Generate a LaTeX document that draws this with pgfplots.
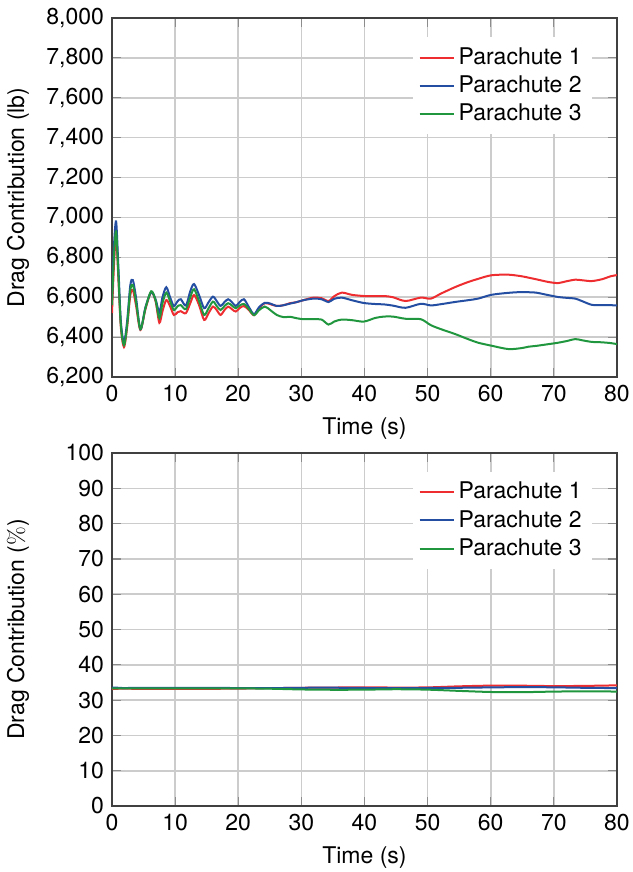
\documentclass[border=0pt]{standalone}
\usepackage{fontspec}
\setmainfont{TeX Gyre Heros}
\usepackage{pgfplots}
\usepackage{pgfplotstable}
\pgfplotsset{compat=1.18}
\definecolor{pred}{RGB}{237,45,48}
\definecolor{pblue}{RGB}{35,78,162}
\definecolor{pgreen}{RGB}{32,150,62}

\pgfplotstableread{
t r b g
0.0 6520 6600 6560
0.3 6750 6850 6800
0.65 6910 6980 6930
1.0 6700 6760 6720
1.4 6450 6480 6460
1.9 6350 6375 6360
2.4 6450 6480 6460
2.9 6610 6660 6635
3.3 6636 6686 6661
3.8 6560 6600 6580
4.5 6436 6440 6440
5.3 6540 6550 6545
6.2 6625 6625 6630
6.9 6580 6590 6585
7.5 6472 6525 6495
8.0 6530 6600 6570
8.6 6586 6650 6623
9.2 6555 6600 6580
9.8 6511 6556 6536
10.4 6525 6580 6555
10.9 6530 6590 6560
11.7 6520 6558 6540
12.4 6570 6630 6600
13.0 6611 6666 6640
13.8 6560 6610 6580
14.6 6486 6545 6511
15.3 6520 6575 6545
16.0 6553 6603 6578
16.6 6535 6580 6555
17.2 6511 6556 6536
17.8 6535 6575 6555
18.4 6553 6590 6570
19.0 6540 6575 6558
19.6 6528 6556 6545
20.2 6545 6575 6558
20.9 6556 6590 6566
21.7 6535 6550 6540
22.5 6510 6515 6510
23.3 6545 6550 6535
24.2 6570 6572 6553
25.1 6565 6568 6535
26.1 6556 6556 6511
27.2 6560 6560 6500
28.2 6570 6568 6502
29.2 6575 6575 6495
30.3 6585 6585 6490
31.9 6598 6593 6490
33.2 6595 6590 6488
34.3 6581 6576 6463
35.2 6605 6592 6478
36.4 6623 6598 6488
38.0 6612 6585 6485
39.9 6606 6571 6478
41.7 6605 6566 6496
43.1 6606 6564 6503
44.5 6600 6558 6503
46.5 6581 6547 6492
48.9 6598 6567 6490
50.5 6593 6559 6460
52.1 6618 6565 6440
54.3 6650 6576 6416
56.4 6676 6585 6390
58.0 6692 6593 6372
60.1 6710 6612 6357
62.8 6713 6622 6340
64.9 6705 6626 6345
66.0 6698 6625 6352
67.2 6690 6623 6356
69.2 6676 6610 6365
70.7 6671 6601 6372
72.0 6680 6597 6380
73.4 6688 6593 6390
74.5 6685 6580 6384
76.0 6681 6562 6376
77.6 6690 6560 6374
79.0 6705 6560 6370
80.0 6711 6559 6365
}\forcetable

\pgfplotstableread{
t r b g
0 33.13 33.54 33.33
0.65 33.19 33.53 33.29
1.9 33.27 33.40 33.32
3.3 33.21 33.46 33.33
7.5 33.20 33.48 33.32
10 33.21 33.44 33.34
14.6 33.19 33.49 33.32
20 33.26 33.41 33.33
25 33.38 33.39 33.23
30 33.49 33.49 33.02
35 33.56 33.51 32.93
40 33.61 33.43 32.96
45 33.56 33.36 33.08
50 33.60 33.43 32.96
55 33.90 33.49 32.61
60 34.10 33.60 32.30
65 34.08 33.68 32.25
70 33.97 33.62 32.41
75 34.03 33.48 32.49
80 34.18 33.40 32.42
}\pcttable

\pgfplotsset{
  common/.style={
    scale only axis,
    width=252.5pt,
    xmin=0, xmax=80,
    xtick={0,10,...,80},
    grid=major,
    grid style={draw=black!20, line width=0.8pt},
    axis line style={draw=black!75, line width=0.8pt},
    major tick style={draw=black!45, line width=0.6pt},
    major tick length=4.5pt,
    /pgf/number format/assume math mode=true,
    tick label style={font=\fontsize{11.5}{14}\selectfont},
    label style={font=\fontsize{11.5}{14}\selectfont},
    xlabel={Time (s)},
    every axis y label/.style={at={(axis description cs:-0.186,0.5)}, rotate=90, anchor=center},
    legend style={draw=none, fill=white, at={(0.9505,0.947)}, anchor=north east,
      font=\fontsize{11.5}{14}\selectfont, inner sep=3pt, row sep=0pt},
    legend cell align=left,
    every axis plot/.append style={line width=1pt, smooth, tension=0.5},
  }
}

\begin{document}
\fontsize{11.5}{14}\selectfont
\begin{tikzpicture}
\path[use as bounding box] (-56pt,188.5pt) rectangle (260pt,-247.5pt);
\begin{axis}[common,
  at={(0pt,0pt)}, anchor=south west,
  height=179.5pt,
  ymin=6200, ymax=8000,
  ytick={6200,6400,...,8000},
  scaled y ticks=false,
  ylabel={Drag Contribution (lb)},
]
\addplot[pred] table[x=t,y=r] {\forcetable};
\addplot[pblue] table[x=t,y=b] {\forcetable};
\addplot[pgreen] table[x=t,y=g] {\forcetable};
\legend{Parachute 1, Parachute 2, Parachute 3}
\end{axis}

\begin{axis}[common,
  at={(0pt,-38pt)}, anchor=north west,
  height=176.5pt,
  ymin=0, ymax=100,
  ytick={0,10,...,100},
  ylabel={Drag Contribution ({\fontfamily{lmr}\selectfont\%})},
]
\addplot[pred] table[x=t,y=r] {\pcttable};
\addplot[pblue] table[x=t,y=b] {\pcttable};
\addplot[pgreen] table[x=t,y=g] {\pcttable};
\legend{Parachute 1, Parachute 2, Parachute 3}
\end{axis}
\end{tikzpicture}
\end{document}
